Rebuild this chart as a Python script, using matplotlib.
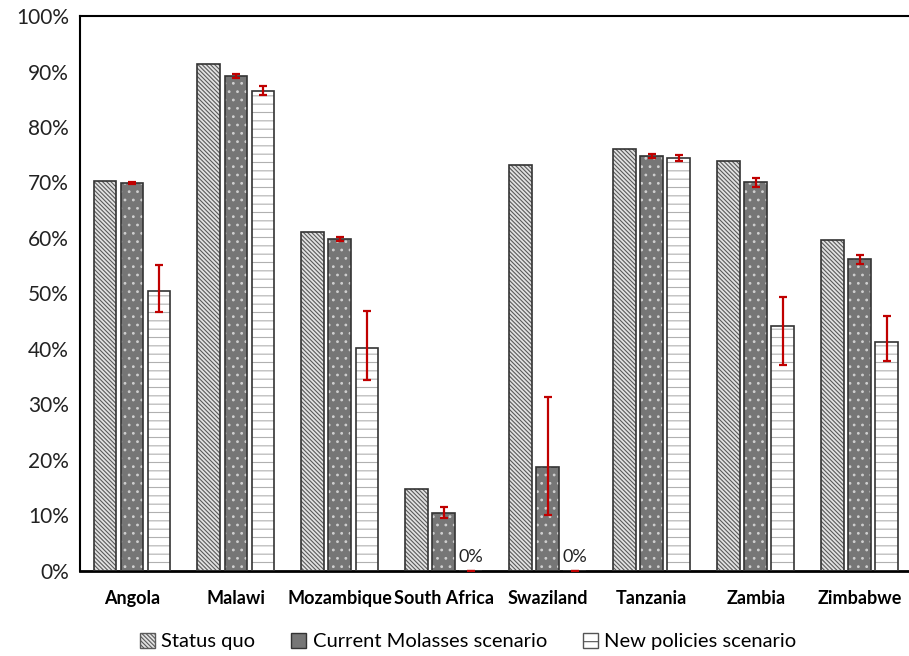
import numpy as np
import matplotlib.pyplot as plt
from matplotlib.patches import Patch

plt.rcParams['font.family'] = ['Lato', 'DejaVu Sans']
plt.rcParams['hatch.linewidth'] = 0.8

countries = ['Angola', 'Malawi', 'Mozambique', 'South Africa', 'Swaziland',
             'Tanzania', 'Zambia', 'Zimbabwe']
status_quo = [70.2, 91.3, 61.1, 14.8, 73.2, 76.0, 73.9, 59.6]
current_molasses = [69.9, 89.2, 59.8, 10.5, 18.8, 74.8, 70.0, 56.2]
new_policies = [50.5, 86.5, 40.2, 0.0, 0.0, 74.4, 44.1, 41.2]
cm_err_lo = [0.2, 0.4, 0.4, 1.0, 8.7, 0.4, 0.8, 0.8]
cm_err_hi = [0.2, 0.4, 0.4, 1.0, 12.5, 0.4, 0.9, 0.8]
np_err_lo = [3.8, 0.8, 5.7, 0.0, 0.0, 0.5, 7.0, 3.4]
np_err_hi = [4.6, 0.8, 6.7, 0.0, 0.0, 0.5, 5.2, 4.8]

fig = plt.figure(figsize=(9.09, 6.56), dpi=100)
ax = fig.add_axes([0.088, 0.1296, 0.915, 0.846])

x = np.arange(len(countries))
w = 0.22
step = 0.26

sq_hatch = '\\' * 8
series = [
    (status_quo, '#e2e2e2', '#5a5a5a', sq_hatch, 'Status quo'),
    (current_molasses, '#767676', '#d0d0d0', '..', 'Current Molasses scenario'),
    (new_policies, 'white', '#b0b0b0', '--', 'New policies scenario'),
]

for i, (vals, fc, hc, hatch, lab) in enumerate(series):
    pos = x + (i - 1) * step
    ax.bar(pos, vals, w, color=fc, edgecolor=hc, hatch=hatch, linewidth=0, zorder=2)
    ax.bar(pos, vals, w, facecolor='none', edgecolor='#333333', linewidth=1.2, zorder=3)

ax.errorbar(x, current_molasses, yerr=[cm_err_lo, cm_err_hi], fmt='none',
            ecolor='#c00000', elinewidth=1.6, capsize=3, capthick=1.6, zorder=4)
ax.errorbar(x + step, new_policies, yerr=[np_err_lo, np_err_hi], fmt='none',
            ecolor='#c00000', elinewidth=1.6, capsize=3, capthick=1.6, zorder=4)

for xi, v in zip(x + step, new_policies):
    if v == 0:
        ax.text(xi, 1.0, '0%', ha='center', va='bottom', fontsize=13, color='#222222')

ax.set_xlim(-0.5, len(countries) - 0.5)
ax.set_ylim(0, 100)
ax.set_yticks(np.arange(0, 101, 10))
ax.set_yticklabels([f'{v}%' for v in range(0, 101, 10)], fontsize=15, color='#222222')
ax.set_xticks(x)
ax.set_xticklabels(countries, fontsize=13, fontweight='bold')
ax.tick_params(axis='both', length=0)
ax.tick_params(axis='x', pad=14)
ax.tick_params(axis='y', pad=8)
for s in ax.spines.values():
    s.set_linewidth(1.5)
    s.set_color('black')
ax.spines['bottom'].set_linewidth(2)

handles = [
    Patch(facecolor='#e2e2e2', edgecolor='#5a5a5a', hatch=sq_hatch),
    Patch(facecolor='#767676', edgecolor='#333333'),
    Patch(facecolor='white', edgecolor='#555555', hatch='-'),
]
fig.legend(handles, [s[4] for s in series], loc='center', bbox_to_anchor=(0.515, 0.022),
           ncol=3, frameon=False, fontsize=14.5, handlelength=0.75, handleheight=0.75,
           handletextpad=0.3, columnspacing=1.8)

fig.savefig('out.png', dpi=100)
